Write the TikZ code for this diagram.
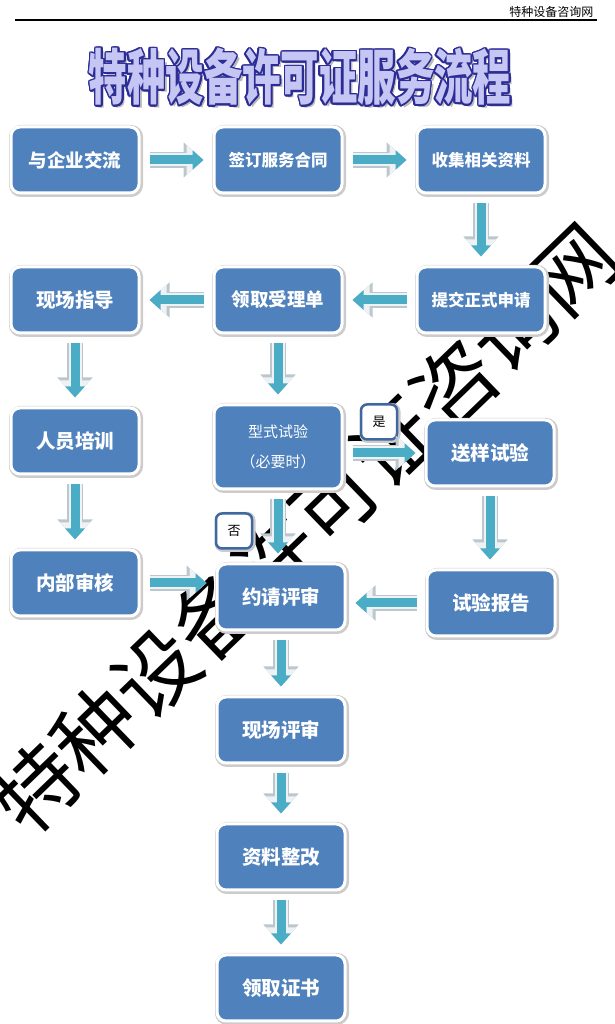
\documentclass[tikz,border=0pt]{standalone}
\usepackage{fontspec}
\setmainfont{Noto Sans CJK SC}
\usetikzlibrary{arrows.meta}

\definecolor{boxblue}{RGB}{79,129,189}
\definecolor{arrteal}{RGB}{75,172,198}
\definecolor{arredge}{RGB}{238,242,244}
\definecolor{arrline}{RGB}{188,198,205}
\definecolor{tagblue}{RGB}{64,104,160}
\definecolor{titlefill}{RGB}{198,198,244}
\definecolor{titleedge}{RGB}{44,44,150}

\newcommand\flowtitle{\scalebox{0.64}[1]{特种设备许可证服务流程}}

\begin{document}
\begin{tikzpicture}[x=1pt, y=1pt, node distance=203pt,
    stepbox/.style = {rounded corners=9pt, fill=boxblue, draw=white, line width=3pt,
      minimum width=128pt, minimum height=66pt, inner sep=0pt, text=white,
      font=\fontsize{19.5}{21}\selectfont\bfseries,
      preaction={draw=gray!40, line width=6pt, transform canvas={xshift=1pt, yshift=-1pt}}},
    mid/.style = {font=\fontsize{18.5}{20}\selectfont\bfseries},
    long/.style = {font=\fontsize{16.5}{18}\selectfont\bfseries},
    tagbox/.style = {rounded corners=6pt, fill=white, draw=tagblue, line width=2.5pt,
      minimum width=36pt, minimum height=35pt, inner sep=0pt,
      font=\fontsize{13}{15}\selectfont,
      preaction={draw=gray!40, line width=5pt, transform canvas={xshift=1pt, yshift=-1pt}}},
    flow/.style = {draw=arrteal, line width=9pt, -{Triangle[width=19pt,length=11pt]},
      shorten <=9pt, shorten >=9pt,
      preaction={draw=arrline, line width=16pt, -{Triangle[width=34pt,length=20pt]}, shorten <=9pt, shorten >=9pt},
      preaction={draw=arredge, line width=13pt, -{Triangle[width=29pt,length=17pt]}, shorten <=9pt, shorten >=9pt}},
    titletext/.style = {font=\fontsize{60}{64}\selectfont\bfseries, inner sep=0pt}]
\useasboundingbox (0,0) rectangle (614,1024);

% header
\node[anchor=east, font=\fontsize{12}{14}\selectfont] (site) at (597,1012) {特种设备咨询网};
\coordinate (rule1) at (15,1004);
\coordinate (rule2) at (597,1004);
\draw[line width=1.4pt] (rule1) -- (rule2);

% title
\node[titletext, text=gray!55] (shade) at (303,944) {\flowtitle};
\foreach \a in {0,20,...,340}
  \node[titletext, text=titleedge, shift={(\a:1.6)}] (edge) at (300,947) {\flowtitle};
\node[titletext, text=titlefill] (title) at (300,947) {\flowtitle};

% watermark
\node[rotate=44, font=\fontsize{83}{85}\selectfont] (mark) at (305,495) {特种设备许可证咨询网};

% steps
\node[stepbox, mid] (1) at (75,864) {与企业交流};
\node[stepbox, long] (2) [right of=1] {签订服务合同};
\node[stepbox, long] (3) [right of=2] {收集相关资料};
\node[stepbox, long] (4) [node distance=140pt, below of=3] {提交正式申请};
\node[stepbox, mid] (5) [left of=4] {领取受理单};
\node[stepbox] (6) [left of=5] {现场指导};
\node[stepbox] (7) [node distance=141pt, below of=6] {人员培训};
\node[stepbox, minimum height=84pt, align=center, font=\fontsize{15}{17}\selectfont] (8)
  [node distance=147pt, below of=5] {型式试验\\[13pt]（必要时）};
\node[stepbox] (9) at (490,571) {送样试验};
\node[stepbox] (10) [node distance=142pt, below of=7] {内部审核};
\node[stepbox] (11) at (281,427) {约请评审};
\node[stepbox] (12) at (491,421) {试验报告};
\node[stepbox] (13) [node distance=133pt, below of=11] {现场评审};
\node[stepbox] (14) [node distance=127pt, below of=13] {资料整改};
\node[stepbox] (15) [node distance=131pt, below of=14] {领取证书};

\node[tagbox] (yes) at (379,602) {是};
\node[tagbox] (no) at (234,493) {否};

\draw[flow] (1) to (2);
\draw[flow] (2) to (3);
\draw[flow] (3) to (4);
\draw[flow] (4) to (5);
\draw[flow] (5) to (6);
\draw[flow] (6) to (7);
\draw[flow] (7) to (10);
\draw[flow] (5) to (8);
\draw[flow] (9.west -| 8.east) to (9.west);
\draw[flow] (8.south) to (8.south |- 11.north);
\draw[flow] (9.south) to (9.south |- 12.north);
\draw[flow] (10.east) to (10.east -| 11.west);
\draw[flow] (12.west) to (12.west -| 11.east);
\draw[flow] (11) to (13);
\draw[flow] (13) to (14);
\draw[flow] (14) to (15);
\end{tikzpicture}
\end{document}
